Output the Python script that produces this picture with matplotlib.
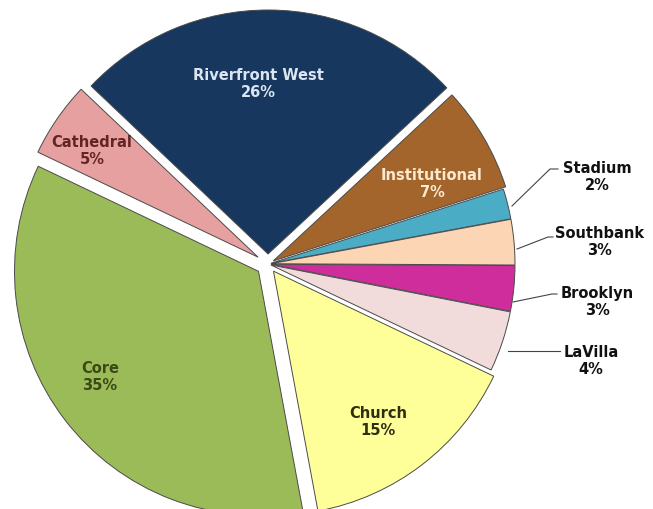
import matplotlib.pyplot as plt

# Slice data (clockwise from the top)
areas = ["Riverfront West", "Institutional", "Stadium", "Southbank", "Brooklyn",
         "LaVilla", "Church", "Core", "Cathedral"]
shares = [26, 7, 2, 3, 3, 4, 15, 35, 5]
colors = ["#17375e", "#a3652b", "#4bacc6", "#fcd5b4", "#d02d9c",
          "#f2dcdb", "#ffff99", "#9bbb59", "#e6a0a0"]
# offsets in pixels (the axes uses pixel units)
explode = [10, 6, 3, 3, 3, 3, 9, 12, 12]

W, H = 653, 510
fig = plt.figure(figsize=(W / 100, H / 100), dpi=100)
ax = fig.add_axes([0, 0, 1, 1])

cx, cy, r = 268, H - 265, 244
ax.pie(shares, colors=colors, explode=explode, startangle=136.5,
       counterclock=False, center=(cx, cy), radius=r,
       wedgeprops=dict(edgecolor="#4a4a4a", linewidth=0.7),
       frame=True)
ax.set_xlim(0, W)
ax.set_ylim(0, H)
ax.set_aspect("equal")
ax.axis("off")

font = dict(family="DejaVu Sans", fontweight="bold", fontsize=10.5,
            ha="center", va="center", linespacing=1.15)


def pct_label(name, val):
    return f"{name}\n{val}%"


# labels inside the slices (pixel positions, y from top)
inside = {
    "Riverfront West": ((258, 84), "#dce6f2"),
    "Institutional": ((432, 184), "#fde9d0"),
    "Cathedral": ((92, 151), "#632523"),
    "Core": ((100, 377), "#3b4a14"),
    "Church": ((378, 422), "#2e2e10"),
}
for name, ((x, y), col) in inside.items():
    val = shares[areas.index(name)]
    ax.text(x, H - y, pct_label(name, val), color=col, **font)

# outside labels with leader lines
outside = {
    "Stadium": ((597, 177), [(512, 207), (550, 170), (558, 170)]),
    "Southbank": ((600, 242), [(517, 250), (548, 238), (553, 238)]),
    "Brooklyn": ((597, 302), [(513, 303), (552, 295), (557, 295)]),
    "LaVilla": ((591, 361), [(508, 352), (560, 352)]),
}
for name, ((x, y), pts) in outside.items():
    val = shares[areas.index(name)]
    ax.text(x, H - y, pct_label(name, val), color="#111111", **font)
    ax.plot([p[0] for p in pts], [H - p[1] for p in pts],
            color="#444444", linewidth=0.8)

fig.savefig("out.png", dpi=100, facecolor="white")
